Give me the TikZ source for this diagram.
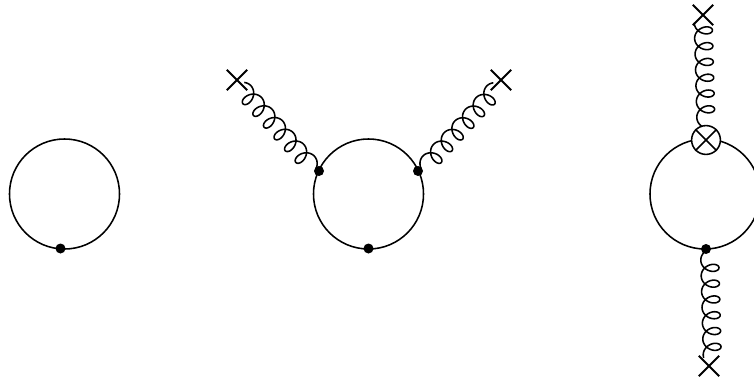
\documentclass[tikz,border=0pt]{standalone}
\usetikzlibrary{calc,shapes.misc}
% gluon line: from, to, sideways shift, tail at start, tail at end
\newcommand{\gluon}[5]{
  \path let \p1=($(#2)-(#1)$),\n1={atan2(\y1,\x1)},\n2={veclen(\x1,\y1)} in
    \pgfextra{\pgfmathsetmacro\gang{\n1}\pgfmathsetmacro\glen{\n2/0.7113}\xdef\gang{\gang}\xdef\glen{\glen}};
  \pgfmathsetmacro\tstart{pi-#4}
  \pgfmathsetmacro\tend{13*pi+#5}
  \draw[shift={(#1)},rotate=\gang,x=0.025cm,y=0.025cm,line join=round]
    plot[domain=\tstart:\tend,samples=300,variable=\t]
    ({\glen/2+15.8*(\t-7*pi)/(2*pi)-7*sin(\t r)},{-9*cos(\t r)-#3});
}
\begin{document}
\begin{tikzpicture}[
  x=0.025cm,y=-0.025cm,
  line width=1.1pt,
  tadpole/.style={draw,circle,minimum size=2.75cm,inner sep=0pt},
  vertex/.style={fill,circle,minimum size=0.25cm,inner sep=0pt},
  bgfield/.style={draw,cross out,minimum size=0.46cm,inner sep=0pt,line width=1.4pt},
  insertion/.style={draw,fill=white,circle,minimum size=0.72cm,inner sep=0pt}
]
\useasboundingbox (0,0) rectangle (754,381);
% one point
\node[tadpole] (c1) at (64.5,194) {};
\node[vertex] (d1) at (60.5,248.5) {};
% three points
\node[tadpole] (c2) at (368.5,194) {};
\node[vertex] (d2) at (368.5,248.5) {};
\node[vertex] (d3) at (319,171) {};
\node[vertex] (d4) at (418,171) {};
\node[bgfield] (x1) at (237,80) {};
\node[bgfield] (x2) at (501,80) {};
\gluon{x1.center}{d3.center}{2.5}{0.8}{1.3}
\gluon{d4.center}{x2.center}{2.5}{1.3}{0.8}
% operator insertion
\node[tadpole] (c3) at (705,194) {};
\node[vertex] (d5) at (706,249) {};
\node[bgfield] (x3) at (703,15) {};
\node[bgfield] (x4) at (709,366) {};
\gluon{x4.center}{d5.center}{3.5}{0.3}{1.0}
\node[insertion] (o1) at (706,140) {};
\draw (o1.north west) -- (o1.south east);
\draw (o1.north east) -- (o1.south west);
\gluon{o1.north}{x3.center}{0}{1.1}{0}
\end{tikzpicture}
\end{document}
